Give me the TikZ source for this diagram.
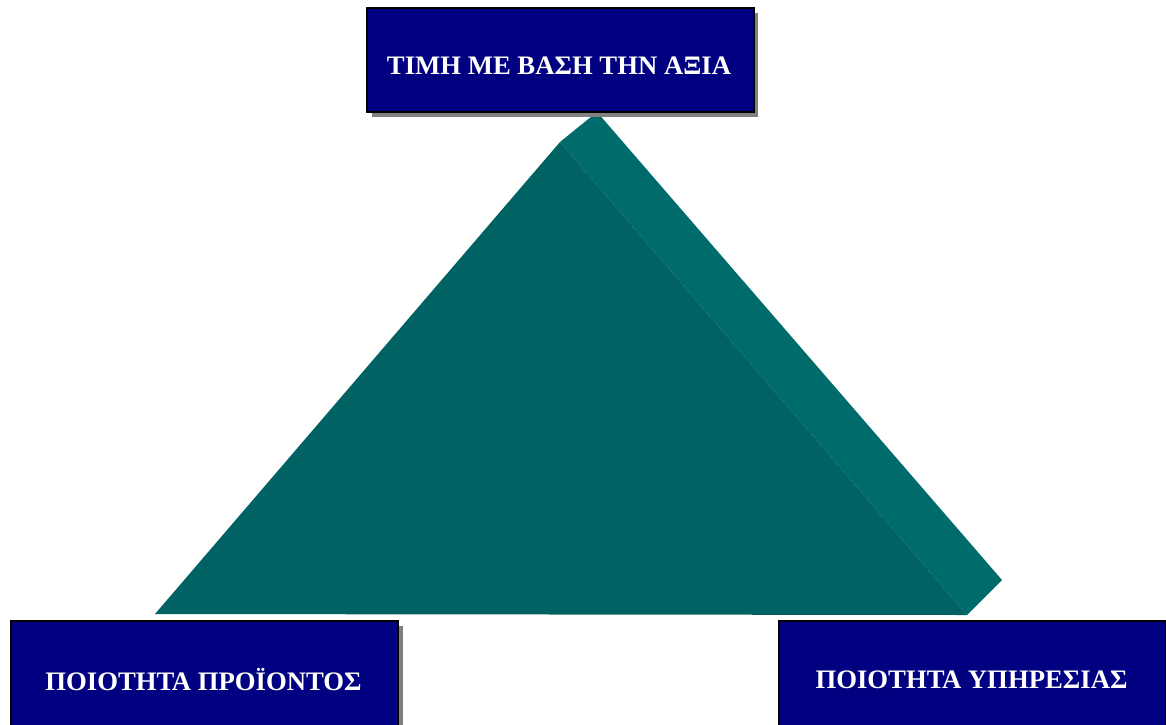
\documentclass[tikz,border=0pt]{standalone}
\usepackage{fontspec}
\setmainfont{Liberation Serif}
\definecolor{navybox}{HTML}{000080}
\definecolor{shadowgray}{HTML}{808080}
\definecolor{tealfront}{HTML}{006262}
\definecolor{tealside}{HTML}{006B6B}
\begin{document}
\begin{tikzpicture}[x=1pt,y=-1pt,
  labelbox/.style={draw=black,line width=1.5pt,fill=navybox,inner sep=0pt,anchor=north west},
  labeltext/.style={text=white,font=\fontsize{26.7}{30}\selectfont\bfseries,inner sep=0pt},
  boxshadow/.style={fill=shadowgray,draw=none}]
\useasboundingbox (0,0) rectangle (1166,724);
\clip (0,0) rectangle (1166,724);
% triangle
\coordinate (fa) at (560,142);
\coordinate (ba) at (597,112);
\coordinate (bl) at (155,614);
\coordinate (fr) at (967,615);
\coordinate (br) at (1002,580);
\fill[tealside] (fa) -- (ba) -- (br) -- (fr) -- cycle;
\fill[tealfront] (fa) -- (bl) -- (fr) -- cycle;
% top box
\fill[boxshadow] (372,13) rectangle (758,117);
\node[labelbox,minimum width=387pt,minimum height=104pt] (top) at (366,7) {};
\node[labeltext] (toptext) at (559,66) {ΤΙΜΗ ΜΕ ΒΑΣΗ ΤΗΝ ΑΞΙΑ};
% bottom left
\fill[boxshadow] (16,626) rectangle (403,740);
\node[labelbox,minimum width=387pt,minimum height=120pt] (left) at (10,620) {};
\node[labeltext] (lefttext) at (203.5,680) {ΠΟΙΟΤΗΤΑ ΠΡΟΪΟΝΤΟΣ};
% bottom right
\fill[boxshadow] (784,626) rectangle (1171,740);
\node[labelbox,minimum width=387pt,minimum height=120pt] (right) at (778,620) {};
\node[labeltext] (righttext) at (971.5,680) {ΠΟΙΟΤΗΤΑ ΥΠΗΡΕΣΙΑΣ};
\end{tikzpicture}
\end{document}
